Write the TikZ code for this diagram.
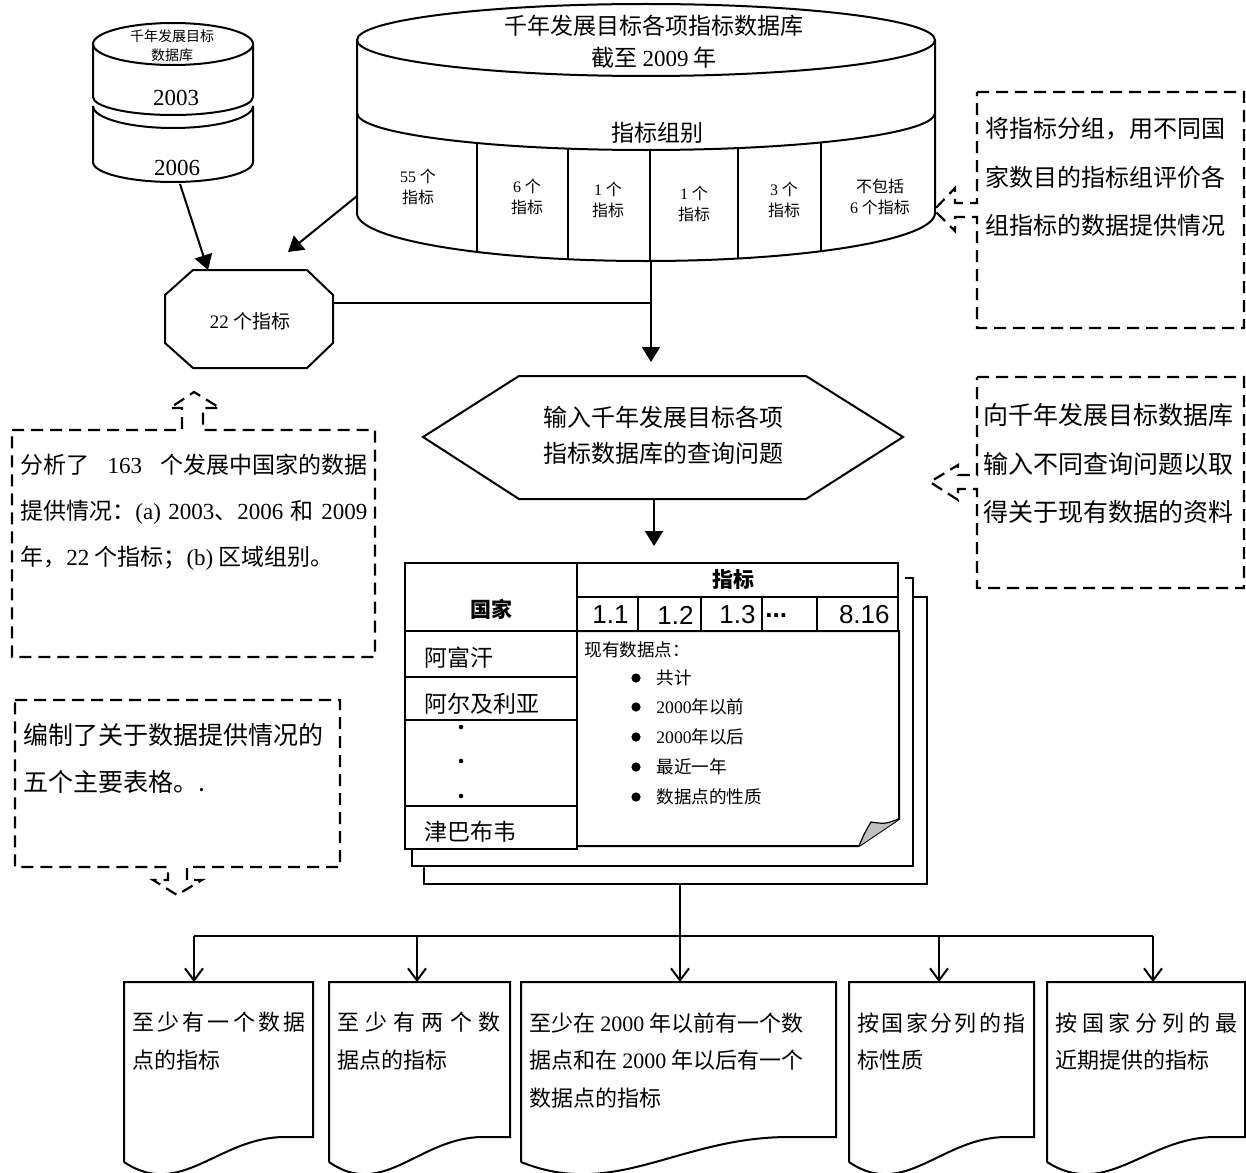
\documentclass[tikz,border=0pt]{standalone}
\usepackage{fontspec}
\setmainfont{Noto Sans CJK SC}
\newfontfamily\numfont{Liberation Serif}
\newfontfamily\arialfont{Liberation Sans}
\usetikzlibrary{arrows.meta}
\tikzstyle{linea} = [line width=1pt]
\tikzstyle{punteada} = [line width=1.1pt, dash pattern=on 6pt off 3.5pt]
\tikzstyle{flecha} = [line width=1pt, -{Triangle[length=7.5pt,width=9pt]}]
\tikzstyle{flechaabierta} = [line width=1pt, -{Straight Barb[length=6pt,width=9pt]}]
\tikzstyle{solotexto} = [inner sep=0pt, align=center]
\tikzstyle{nota} = [inner sep=0pt, align=left, anchor=north west]
\newcommand{\llena}[2]{\hbox to #1{\spaceskip=0pt plus 1fil #2}}

\begin{document}
\begin{tikzpicture}[x=0.5pt, y=-0.5pt]
\useasboundingbox (0,0) rectangle (1246,1172);

% base de datos 2003 / 2006
\draw[linea] (173,44) ellipse [x radius=80, y radius=21];
\draw[linea] (93,44) -- (93,97) arc [start angle=180, end angle=0, x radius=80, y radius=18] -- (253,44);
\draw[linea] (93,106) arc [start angle=180, end angle=0, x radius=80, y radius=22];
\draw[linea] (93,106) -- (93,162) arc [start angle=180, end angle=0, x radius=80, y radius=20] -- (253,106);
\node (bdmdg) [solotexto, font=\fontsize{7}{9.5}\selectfont] at (172,46) {千年发展目标\\数据库};
\node (a2003) [solotexto, font=\numfont\fontsize{11.5}{14}\selectfont] at (176,98) {2003};
\node (a2006) [solotexto, font=\numfont\fontsize{11.5}{14}\selectfont] at (177,168) {2006};

% base de datos 2009
\draw[linea] (646,40) ellipse [x radius=289, y radius=36];
\draw[linea] (357,40) -- (357,213) arc [start angle=180, end angle=0, x radius=289, y radius=48] -- (935,40);
\draw[linea] (357,113) arc [start angle=180, end angle=0, x radius=289, y radius=37];
\foreach \x/\a/\b in {477/143/252, 568/148.6/259.2, 650/150/261, 738/148.1/258.5, 821/142.4/251.2}
  \draw[linea] (\x,\a) -- (\x,\b);
\node (bd2009) [solotexto, font=\fontsize{11.5}{16}\selectfont] at (654,42) {千年发展目标各项指标数据库\\截至 {\numfont 2009} 年};
\node (grupos) [solotexto, font=\fontsize{11.5}{14}\selectfont] at (657,133) {指标组别};
\foreach \x/\y/\t [count=\i] in {418/187/{{\numfont 55} 个\\指标}, 527/197/{{\numfont 6} 个\\指标},
    608/200/{{\numfont 1} 个\\指标}, 694/204/{{\numfont 1} 个\\指标}, 784/200/{{\numfont 3} 个\\指标},
    880/197/{不包括\\{\numfont 6} 个指标}}
  \node (grupo\i) [solotexto, font=\fontsize{8}{10.5}\selectfont] at (\x,\y) {\t};

% octagono
\draw[linea] (193,270) -- (307,270) -- (333,295) -- (333,343) -- (307,368) -- (193,368) -- (165,343) -- (165,295) -- cycle;
\node (ind22) [solotexto, font=\fontsize{9.5}{12}\selectfont] at (250,321) {{\numfont 22} 个指标};

% hexagono
\draw[linea] (519,376) -- (806,376) -- (903,437) -- (806,499) -- (519,499) -- (423,437) -- cycle;
\node (consulta) [solotexto, font=\fontsize{12}{18}\selectfont] at (663,435) {输入千年发展目标各项\\指标数据库的查询问题};

% conectores de arriba
\coordinate (cilbajo) at (180,184);
\coordinate (octarriba) at (208,270);
\coordinate (cilizq) at (357,196);
\coordinate (libre) at (288,252);
\coordinate (octder) at (333,303);
\coordinate (cilbase) at (651,261);
\coordinate (hexarriba) at (651,362);
\coordinate (hexbajo) at (654,499);
\coordinate (tablaarriba) at (654,546);
\draw[flecha] (cilbajo) -- (octarriba);
\draw[flecha] (cilizq) -- (libre);
\draw[linea] (octder) -- (octder -| cilbase);
\draw[flecha] (cilbase) -- (hexarriba);
\draw[flecha] (hexbajo) -- (tablaarriba);

% llamadas punteadas
\draw[punteada] (977,92) -- (1244,92) -- (1244,328) -- (977,328) -- (977,217) -- (955,217) -- (955,231)
  -- (934,210) -- (955,188) -- (955,203) -- (977,203) -- cycle;
\node (nota1) [nota, font=\fontsize{12}{24.25}\selectfont] at (985,117) {将指标分组，用不同国\\家数目的指标组评价各\\组指标的数据提供情况};
\draw[punteada] (977,377) -- (1244,377) -- (1244,588) -- (977,588) -- (977,489) -- (958,489) -- (958,500)
  -- (930,482) -- (958,465) -- (958,475) -- (977,475) -- cycle;
\node (nota2) [nota, font=\fontsize{12.5}{24.25}\selectfont] at (983,403) {向千年发展目标数据库\\输入不同查询问题以取\\得关于现有数据的资料};
\draw[punteada] (12,430) -- (182,430) -- (182,408) -- (170,408) -- (194,392) -- (220,408) -- (203,408)
  -- (203,430) -- (375,430) -- (375,657) -- (12,657) -- cycle;
\node (nota3) [nota, font=\fontsize{11.5}{23}\selectfont] at (20,454) {\llena{173.5pt}{分析了 {\numfont 163} 个发展中国家的数据}\\
  \llena{173.5pt}{提供情况：{\numfont (a)} {\numfont 2003}、{\numfont 2006} 和 {\numfont 2009}}\\
  年，{\numfont 22} 个指标；{\numfont (b)} 区域组别。};
\draw[punteada] (15,700) -- (340,700) -- (340,867) -- (187,867) -- (187,880) -- (202,880) -- (177,895)
  -- (153,880) -- (168,880) -- (168,867) -- (15,867) -- cycle;
\node (nota4) [nota, font=\fontsize{12.5}{23.5}\selectfont] at (23,723) {编制了关于数据提供情况的\\五个主要表格。.};

% tabla de paises
\draw[linea] (905,578) -- (913,578) -- (913,866) -- (412,866) -- (412,849);
\draw[linea] (913,597) -- (927,597) -- (927,884) -- (424,884) -- (424,866);
\fill[white] (577,631) -- (899,631) -- (899,819) -- (859,846) -- (577,846) -- cycle;
\draw[linea] (577,631) -- (899,631) -- (899,819) -- (859,846) -- (577,846);
\fill[black!25] (859,846) .. controls (864,834) .. (871,822) .. controls (885,824) .. (899,819) -- cycle;
\draw[line width=0.6pt] (859,846) .. controls (864,834) .. (871,822) .. controls (885,824) .. (899,819);
\draw[linea] (405,563) rectangle (577,631);
\draw[linea] (577,563) rectangle (898,597);
\draw[linea] (577,597) rectangle (898,631);
\foreach \x in {638,701,762,817}
  \draw[linea] (\x,597) -- (\x,631);
\draw[linea] (405,631) rectangle (577,677);
\draw[linea] (405,677) rectangle (577,720);
\draw[linea] (405,720) rectangle (577,806);
\draw[linea] (405,806) rectangle (577,849);
\node (pais) [solotexto, font=\bfseries\fontsize{10.5}{12}\selectfont] at (491,609) {国家};
\node (indic) [solotexto, font=\bfseries\fontsize{10.5}{12}\selectfont] at (733,580) {指标};
\foreach \x/\t [count=\i] in {629/1.1, 694/1.2, 756/1.3, 890/8.16}
  \node (col\i) [anchor=east, inner sep=0pt, font=\arialfont\fontsize{13}{14}\selectfont] at (\x,615) {\t};
\node (colmas) [anchor=west, inner sep=0pt, font=\arialfont\bfseries\fontsize{13}{14}\selectfont] at (765,616) {...};
\foreach \y/\t [count=\i] in {658/阿富汗, 704/阿尔及利亚, 832/津巴布韦}
  \node (pais\i) [anchor=west, inner sep=0pt, font=\fontsize{11.5}{14}\selectfont] at (424,\y) {\t};
\foreach \y in {727,761,796}
  \fill (461,\y) circle (2.3);
\node (datos) [anchor=west, inner sep=0pt, font=\fontsize{8.8}{11}\selectfont] at (584,650) {现有数据点：};
\foreach \y/\t [count=\i] in {678/共计, 707/{\numfont 2000}年以前, 737/{\numfont 2000}年以后, 767/最近一年, 797/数据点的性质}{
  \fill (636,\y) circle (4.6);
  \node (punto\i) [anchor=west, inner sep=0pt, font=\fontsize{8.8}{11}\selectfont] at (656,\y) {\t};
}

% documentos de salida
\foreach \l/\r in {124/313, 329/510, 521/836, 849/1034, 1047/1245}{
  \pgfmathsetmacro\w{\r-\l}
  \draw[linea] (\l,1162) -- (\l,982) -- (\r,982) -- (\r,1137) -- ({\r-0.15*\w},1137)
    .. controls ({\l+0.5*\w},1137) and ({\l+0.3*\w},1200) .. (\l,1162);
}
\node (doc1) [nota, font=\fontsize{11}{18.75}\selectfont] at (132,1012) {\llena{86.5pt}{至 少 有 一 个 数 据}\\点的指标};
\node (doc2) [nota, font=\fontsize{11}{18.75}\selectfont] at (337,1012) {\llena{81.5pt}{至 少 有 两 个 数}\\据点的指标};
\node (doc3) [nota, font=\fontsize{11}{18.75}\selectfont] at (529,1012) {至少在 {\numfont 2000} 年以前有一个数\\据点和在 {\numfont 2000} 年以后有一个\\数据点的指标};
\node (doc4) [nota, font=\fontsize{11}{18.75}\selectfont] at (857,1012) {\llena{84pt}{按 国 家 分 列 的 指}\\标性质};
\node (doc5) [nota, font=\fontsize{11}{18.75}\selectfont] at (1055,1012) {\llena{91pt}{按 国 家 分 列 的 最}\\近期提供的指标};

% conectores de abajo
\coordinate (pila) at (680,884);
\coordinate (bus) at (680,936);
\foreach \x [count=\i] in {194,417,680,939,1153}
  \coordinate (d\i) at (\x,982);
\draw[linea] (d1 |- bus) -- (d5 |- bus);
\draw[flechaabierta] (pila) -- (d3);
\foreach \i in {1,2,4,5}
  \draw[flechaabierta] (d\i |- bus) -- (d\i);
\end{tikzpicture}
\end{document}
